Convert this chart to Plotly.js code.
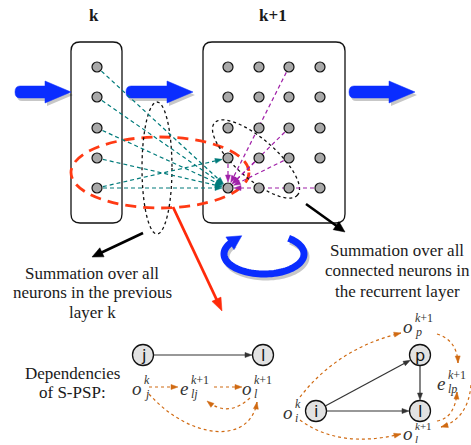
<!DOCTYPE html>
<html><head><meta charset="utf-8">
<script src="https://cdn.plot.ly/plotly-3.0.1.min.js"></script>
<style>html,body{margin:0;padding:0;background:#fff;}#chart{width:471px;height:445px;}</style>
</head><body><div id="chart"></div>
<script>
// ---------------- data ----------------
const layerTitles = ["k", "k+1"];
const layerTitleX = [94, 273];
const layerTitleY = [15, 15];
const leftColX = [97];
const rowY = [67, 97, 128, 158, 188];
const rightColX = [228, 259, 289, 320];
const boxK = [71, 42, 122, 223];
const boxK1 = [203, 42, 345, 223];
const flowArrows = [[15, 71, 92], [126, 193, 92], [349, 415, 92]];
const targetNeuron = [228, 188];
const tealSources = [[97, 67], [97, 97], [97, 128], [97, 158], [97, 188]];
const tealExtraFrom = [97, 188];
const tealExtraTo = [228, 158];
const purpleSources = [[289, 67], [289, 128], [289, 158], [259, 158], [228, 158], [320, 188]];
const redEllipse = [71, 137, 249, 208];
const leftDotted = [157, 168, 15, 66, 0];
const rightDotted = [256, 159, 55, 20, 41];
const redArrow = [173, 207, 222, 311];
const blackArrows = [[143, 233, 92, 257], [306, 204, 345, 232]];
const loopArc = [264, 254, 40, 20, -52, 218];
const noteLeft = ["Summation over all", "neurons in the previous", "layer k"];
const noteLeftPos = [92, 273, 19.5];
const noteRight = ["Summation over all", "connected neurons in", "the recurrent layer"];
const noteRightPos = [397, 250, 20.5];
const depText = ["Dependencies", "of S-PSP:"];
const depPos = [72, 373, 19];
const graphNodes = ["j", "l", "i", "p", "l"];
const graphNodeX = [143, 263, 316, 420, 420];
const graphNodeY = [355, 355, 411, 355, 411];
const graphEdges = [[0, 1], [2, 3], [2, 4], [3, 4]];
const mathBase = ["o", "e", "o", "o", "o", "e", "o"];
const mathSup = ["k", "k+1", "k+1", "k", "k+1", "k+1", "k+1"];
const mathSub = ["j", "lj", "l", "i", "p", "lp", "l"];
const mathX = [137, 184, 247, 288, 408, 441, 408];
const mathY = [387, 387, 387, 411, 325, 382, 432.5];
const mathScript = [12, 12, 12, 12, 12, 12, 11];
const mathSupDy = [-7.5, -7.5, -7.5, -7.5, -7.5, -7.5, -6.5];
const mathSubDy = [6.5, 6.5, 6.5, 6.5, 6.5, 6.5, 6];
// dependency arrows: [x0,y0, c1x,c1y, (c2x,c2y), x1,y1]
const depArrows = [
  [149, 387, 178, 387],
  [214, 387, 242, 387],
  [250, 398, 228, 418, 207, 401],
  [149, 394, 190, 440, 250, 445, 257, 402],
  [300, 397, 338, 348, 401, 333],
  [437, 334, 457, 340, 458, 363],
  [300, 420, 339, 449, 401, 434],
  [437, 421, 455, 418, 457, 392],
  [471, 385, 468, 419, 441, 427]
];

// ---------------- helpers ----------------
const SERIF = 'Liberation Serif';
const shapes = [];
const annotations = [];
function head(tx, ty, dx, dy, len, wid, color, layer) {
  const L = Math.hypot(dx, dy), ux = dx / L, uy = dy / L;
  const bx = tx - ux * len, by = ty - uy * len;
  const px = -uy * wid / 2, py = ux * wid / 2;
  shapes.push({type: 'path', path: `M ${tx} ${ty} L ${bx + px} ${by + py} L ${bx - px} ${by - py} Z`,
    fillcolor: color, line: {color: color, width: 0.5}, layer: layer || 'above'});
}
function arrowLine(x0, y0, x1, y1, color, width, dash, hl, hw, layer) {
  const L = Math.hypot(x1 - x0, y1 - y0), ux = (x1 - x0) / L, uy = (y1 - y0) / L;
  shapes.push({type: 'line', x0: x0, y0: y0, x1: x1 - ux * hl * 0.7, y1: y1 - uy * hl * 0.7,
    line: {color: color, width: width, dash: dash}, layer: layer || 'below'});
  head(x1, y1, ux, uy, hl, hw, color, layer || 'below');
}
function ellipsePath(cx, cy, rx, ry, ang, a0, a1, closed) {
  const t = ang * Math.PI / 180, n = 72;
  const s = a0 === undefined ? 0 : a0, e = a1 === undefined ? 360 : a1;
  let p = '';
  for (let i = 0; i <= n; i++) {
    const a = (s + (e - s) * i / n) * Math.PI / 180;
    const x = rx * Math.cos(a), y = ry * Math.sin(a);
    const X = cx + x * Math.cos(t) - y * Math.sin(t), Y = cy + x * Math.sin(t) + y * Math.cos(t);
    p += (i === 0 ? 'M ' : ' L ') + X.toFixed(2) + ' ' + Y.toFixed(2);
  }
  return closed ? p + ' Z' : p;
}
function roundBox(b, r) {
  const [x0, y0, x1, y1] = b;
  return `M ${x0 + r} ${y0} L ${x1 - r} ${y0} Q ${x1} ${y0} ${x1} ${y0 + r} L ${x1} ${y1 - r} Q ${x1} ${y1} ${x1 - r} ${y1} L ${x0 + r} ${y1} Q ${x0} ${y1} ${x0} ${y1 - r} L ${x0} ${y0 + r} Q ${x0} ${y0} ${x0 + r} ${y0} Z`;
}
function flowArrowPath(a, ox, oy) {
  const [x0, x1, y] = a.map((v, i) => v + (i < 2 ? ox : oy));
  const sh = 6, hh = 11, hl = 26;
  return `M ${x0 + 5} ${y - sh} L ${x1 - hl} ${y - sh} L ${x1 - hl} ${y - hh} L ${x1} ${y} L ${x1 - hl} ${y + hh} L ${x1 - hl} ${y + sh} L ${x0 + 5} ${y + sh} Q ${x0} ${y + sh} ${x0} ${y} Q ${x0} ${y - sh} ${x0 + 5} ${y - sh} Z`;
}
function text(x, y, t, size, opts) {
  annotations.push(Object.assign({x: x, y: y, text: t, showarrow: false, xanchor: 'center', yanchor: 'middle',
    borderpad: 0, font: {family: SERIF, size: size, color: '#1a1a1a'}}, opts || {}));
}

// ---------------- boxes ----------------
[boxK, boxK1].forEach(b => shapes.push({type: 'path', path: roundBox(b, 9), line: {color: '#111', width: 1.3}, fillcolor: 'white', layer: 'below'}));

// ---------------- flow arrows ----------------
flowArrows.forEach(a => {
  shapes.push({type: 'path', path: flowArrowPath(a, 2, 3), fillcolor: 'rgba(0,0,0,0.22)', line: {width: 0}, layer: 'below'});
  shapes.push({type: 'path', path: flowArrowPath(a, 0, 0), fillcolor: '#0a2dff', line: {color: '#0a2dff', width: 0.5}, layer: 'below'});
});

// ---------------- red ellipse + dotted ellipses ----------------
shapes.push({type: 'circle', x0: redEllipse[0], y0: redEllipse[1], x1: redEllipse[2], y1: redEllipse[3],
  line: {color: '#ff3a14', width: 2.8, dash: '11px,7px'}, layer: 'below'});
shapes.push({type: 'path', path: ellipsePath(...leftDotted, 0, 360, true), line: {color: '#111', width: 1.3, dash: 'dot'}, layer: 'below'});
shapes.push({type: 'path', path: ellipsePath(...rightDotted, 0, 360, true), line: {color: '#111', width: 1.3, dash: 'dot'}, layer: 'below'});

// ---------------- teal and purple connections ----------------
function connect(src, dst, color) {
  const dx = dst[0] - src[0], dy = dst[1] - src[1], L = Math.hypot(dx, dy);
  const ux = dx / L, uy = dy / L;
  arrowLine(src[0] + ux * 6, src[1] + uy * 6, dst[0] - ux * 6, dst[1] - uy * 6, color, 1.2, '4px,3px', 7, 5, 'below');
}
tealSources.forEach(s => connect(s, targetNeuron, '#007b7b'));
connect(tealExtraFrom, tealExtraTo, '#007b7b');
purpleSources.forEach(s => connect(s, targetNeuron, '#a020a8'));

// ---------------- black / red pointer arrows ----------------
arrowLine(redArrow[0], redArrow[1], redArrow[2], redArrow[3], '#ff2a0a', 2.8, 'solid', 13, 10, 'above');
blackArrows.forEach(a => arrowLine(a[0], a[1], a[2], a[3], '#000', 2.6, 'solid', 11, 10, 'above'));

// ---------------- recurrent loop ----------------
{
  const [cx, cy, rx, ry, a0, a1] = loopArc;
  const sh = ellipsePath(cx + 2, cy + 3, rx, ry, 0, a0, a1, false);
  shapes.push({type: 'path', path: sh, line: {color: 'rgba(0,0,0,0.22)', width: 7}, layer: 'above'});
  shapes.push({type: 'path', path: ellipsePath(cx, cy, rx, ry, 0, a0, a1, false), line: {color: '#0a2dff', width: 7}, layer: 'above'});
  const a = a1 * Math.PI / 180;
  const ex = cx + rx * Math.cos(a), ey = cy + ry * Math.sin(a);
  const dx = -rx * Math.sin(a), dy = ry * Math.cos(a), L = Math.hypot(dx, dy);
  head(ex + dx / L * 11, ey + dy / L * 11, dx, dy, 14, 15, '#0a2dff', 'above');
}

// ---------------- texts ----------------
layerTitles.forEach((t, i) => text(layerTitleX[i], layerTitleY[i], '<b>' + t + '</b>', 17));
noteLeft.forEach((t, i) => text(noteLeftPos[0], noteLeftPos[1] + i * noteLeftPos[2], t, 17));
noteRight.forEach((t, i) => text(noteRightPos[0], noteRightPos[1] + i * noteRightPos[2], t, 17));
depText.forEach((t, i) => text(depPos[0], depPos[1] + i * depPos[2], t, 17));

// ---------------- small graphs ----------------
graphEdges.forEach(e => {
  const s = [graphNodeX[e[0]], graphNodeY[e[0]]], d = [graphNodeX[e[1]], graphNodeY[e[1]]];
  const dx = d[0] - s[0], dy = d[1] - s[1], L = Math.hypot(dx, dy), ux = dx / L, uy = dy / L;
  arrowLine(s[0] + ux * 11, s[1] + uy * 11, d[0] - ux * 11, d[1] - uy * 11, '#333', 1.2, 'solid', 7, 5, 'below');
});
graphNodes.forEach((t, i) => annotations.push({x: graphNodeX[i], y: graphNodeY[i] + 0.5, text: t, showarrow: false,
  borderpad: 0, font: {family: 'DejaVu Sans', size: 16, color: '#111'}}));

mathBase.forEach((b, i) => {
  const fs = mathScript[i];
  text(mathX[i], mathY[i] + 1, '<i>' + b + '</i>', 19, {font: {family: SERIF, size: 19, color: '#333'}});
  const sup = mathSup[i].replace('k', '<i>k</i>');
  text(mathX[i] + 6, mathY[i] + mathSupDy[i], sup, fs, {xanchor: 'left', font: {family: SERIF, size: fs, color: '#333'}});
  text(mathX[i] + 6, mathY[i] + mathSubDy[i], '<i>' + mathSub[i] + '</i>', fs, {xanchor: 'left', font: {family: SERIF, size: fs, color: '#333'}});
});

const orange = '#d06a12';
depArrows.forEach(a => {
  let path, tx, ty, dx, dy;
  if (a.length === 4) {
    arrowLine(a[0], a[1], a[2], a[3], orange, 1.2, '3px,3px', 7, 5, 'above');
    return;
  } else if (a.length === 6) {
    path = `M ${a[0]} ${a[1]} Q ${a[2]} ${a[3]} ${a[4]} ${a[5]}`;
    tx = a[4]; ty = a[5]; dx = a[4] - a[2]; dy = a[5] - a[3];
  } else {
    path = `M ${a[0]} ${a[1]} C ${a[2]} ${a[3]} ${a[4]} ${a[5]} ${a[6]} ${a[7]}`;
    tx = a[6]; ty = a[7]; dx = a[6] - a[4]; dy = a[7] - a[5];
  }
  shapes.push({type: 'path', path: path, line: {color: orange, width: 1.2, dash: '3px,3px'}, layer: 'above'});
  head(tx, ty, dx, dy, 7, 5, orange, 'above');
});

// ---------------- traces ----------------
const lx = [], ly = [], rx = [], ry = [];
leftColX.forEach(x => rowY.forEach(y => { lx.push(x); ly.push(y); }));
rightColX.forEach(x => rowY.forEach(y => { rx.push(x); ry.push(y); }));
const traces = [
  {x: lx.concat(rx), y: ly.concat(ry), mode: 'markers', type: 'scatter', hoverinfo: 'skip',
    marker: {size: 10, color: '#a9a9a9', line: {color: '#111', width: 1.2}}},
  {x: graphNodeX, y: graphNodeY, mode: 'markers', type: 'scatter', hoverinfo: 'skip',
    marker: {size: 21, color: '#e2e2e2', line: {color: '#111', width: 1.3}}}
];

const layout = {
  width: 471, height: 445, margin: {l: 0, r: 0, t: 0, b: 0}, showlegend: false,
  paper_bgcolor: 'white', plot_bgcolor: 'white',
  xaxis: {range: [0, 471], visible: false, fixedrange: true},
  yaxis: {range: [445, 0], visible: false, fixedrange: true},
  shapes: shapes, annotations: annotations
};
Plotly.newPlot('chart', traces, layout, {staticPlot: true, displayModeBar: false});
</script></body></html>
